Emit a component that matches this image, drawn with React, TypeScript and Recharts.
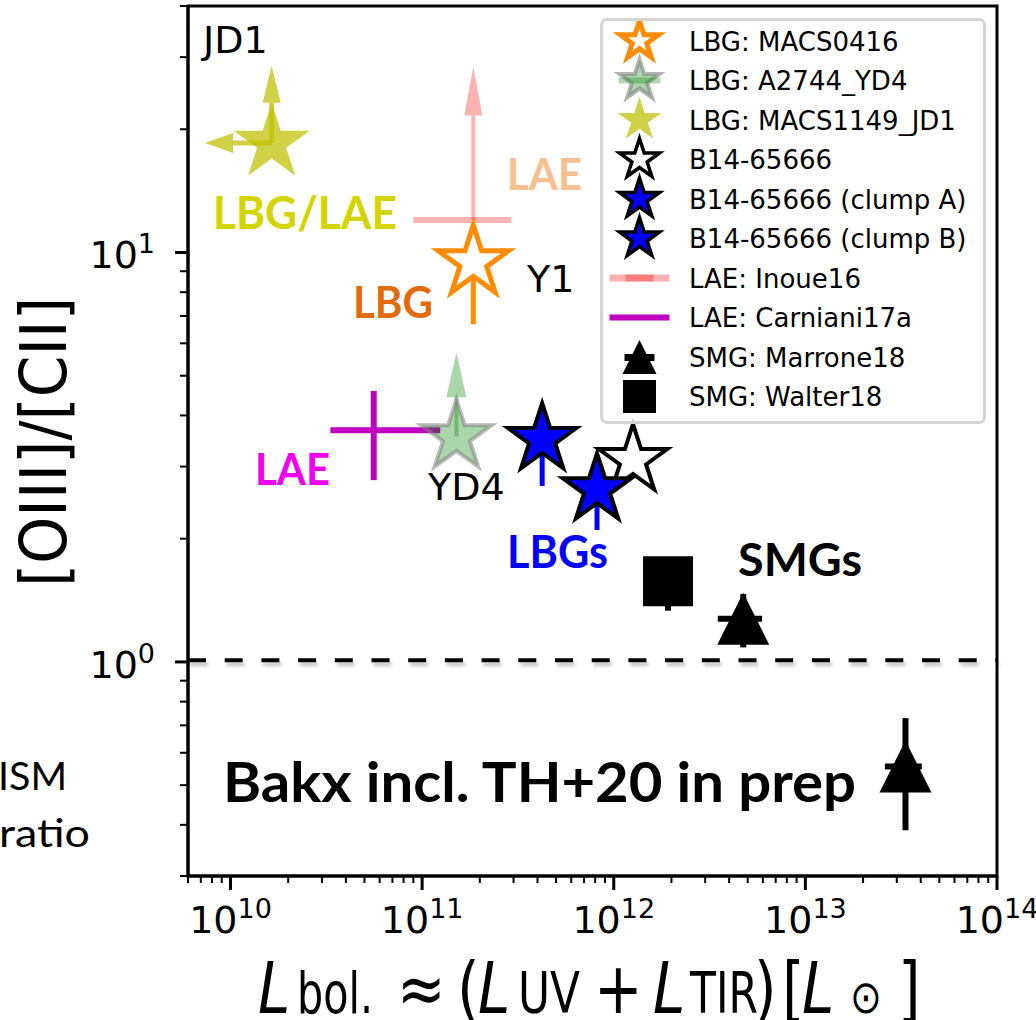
import React from 'react'
import {
  ScatterChart,
  Scatter,
  XAxis,
  YAxis,
  ErrorBar,
  ReferenceLine,
  ReferenceArea,
  Legend,
} from 'recharts'

const FONT = '"DejaVu Sans", sans-serif'
const SLIDE_FONT = 'Lato, "Open Sans", sans-serif'

const X_MIN = 6e9
const X_MAX = 1e14
const Y_MIN = 0.3
const Y_MAX = 40

const X_DECADES = [1e9, 1e10, 1e11, 1e12, 1e13, 1e14]
const Y_DECADES = [0.1, 1, 10]
const LOG_STEPS = [1, 2, 3, 4, 5, 6, 7, 8, 9]

const logTicks = (decades: number[], lo: number, hi: number) =>
  decades
    .flatMap((d) => LOG_STEPS.map((m) => m * d))
    .filter((v) => v >= lo * 0.999 && v <= hi * 1.001)

const X_TICKS = logTicks(X_DECADES, X_MIN, X_MAX)
const Y_TICKS = logTicks(Y_DECADES, Y_MIN, Y_MAX)

// x = L_bol [L_sun], y = [OIII]/[CII]; ex / ey hold [minus, plus]
const MACS0416 = [{ x: 1.85e11, y: 9.47, ey: [2.79, 0] }]
const A2744_YD4 = [{ x: 1.51e11, y: 3.55, ey: [0, 0.88] }]
const MACS1149_JD1 = [{ x: 1.64e10, y: 18.5, ex: [0.61e10, 0], ey: [0, 4.7] }]
const B14_65666 = [{ x: 1.26e12, y: 3.11 }]
const B14_CLUMP_A = [{ x: 4.23e11, y: 3.5, ey: [0.81, 0] }]
const B14_CLUMP_B = [{ x: 8.18e11, y: 2.64, ey: [0.54, 0] }]
const INOUE16 = [{ x: 1.85e11, y: 12.0, ex: [0.95e11, 1.07e11], ey: [0, 9.6] }]
const CARNIANI17A = [{ x: 5.59e10, y: 3.68, ex: [2.27e10, 6.84e10], ey: [0.9, 0.91] }]
const MARRONE18 = [{ x: 4.74e12, y: 1.275, ex: [1.25e12, 1.2e12], ey: [0.19, 0.19] }]
const WALTER18 = [{ x: 1.92e12, y: 1.574, ey: [0.24, 0.2] }]
const BAKX_TH20 = [{ x: 3.33e13, y: 0.555, ex: [0.73e13, 0.72e13], ey: [0.167, 0.174] }]

const SMG_LINE = 1.01

// limit arrows sit at the end of the one-sided error bars
const upEnd = (d: any) => ({ x: d.x, y: d.y + d.ey[1] })
const leftEnd = (d: any) => ({ x: d.x - d.ex[0], y: d.y })

const JD1_UP = MACS1149_JD1.map(upEnd)
const JD1_LEFT = MACS1149_JD1.map(leftEnd)
const YD4_UP = A2744_YD4.map(upEnd)
const INOUE_UP = INOUE16.map(upEnd)

const JD1_COLOR = '#bfbf00'
const JD1_ALPHA = 0.72

const starPoints = (cx: number, cy: number, r: number) =>
  Array.from({ length: 10 }, (_, i) => {
    const rr = i % 2 ? r * 0.381966 : r
    const a = -Math.PI / 2 + (i * Math.PI) / 5
    return `${(cx + rr * Math.cos(a)).toFixed(2)},${(cy + rr * Math.sin(a)).toFixed(2)}`
  }).join(' ')

const Star = ({ cx, cy, r, ...rest }: any) => (
  <polygon points={starPoints(cx, cy, r)} strokeLinejoin="miter" {...rest} />
)

const Triangle = ({ cx, cy, h, ...rest }: any) => (
  <polygon points={`${cx},${cy - h} ${cx - h},${cy + h} ${cx + h},${cy + h}`} {...rest} />
)

const Arrow = ({ cx, cy, dir, len, half, color, opacity }: any) => {
  const pts =
    dir === 'up'
      ? [[cx, cy - len], [cx - half, cy], [cx + half, cy]]
      : [[cx - len, cy], [cx, cy - half], [cx, cy + half]]
  return <polygon points={pts.map((p) => p.join(',')).join(' ')} fill={color} fillOpacity={opacity} />
}

const isDecade = (v: number) => Math.abs(Math.log10(v) - Math.round(Math.log10(v))) < 1e-6

const XTick = ({ x, y, payload }: any) => {
  const v = payload.value
  const major = isDecade(v)
  return (
    <g>
      <line x1={x} x2={x} y1={y} y2={y + (major ? 14 : 7)} stroke="#000" strokeWidth={major ? 3 : 2} />
      {major && (
        <text x={x} y={y + 57} textAnchor="middle" fontFamily={FONT} fontSize={38} fill="#000">
          10
          <tspan fontSize={27} dy={-15}>
            {Math.round(Math.log10(v))}
          </tspan>
        </text>
      )}
    </g>
  )
}

const YTick = ({ x, y, payload }: any) => {
  const v = payload.value
  const major = isDecade(v)
  return (
    <g>
      <line x1={x} x2={x - (major ? 13 : 8)} y1={y} y2={y} stroke="#000" strokeWidth={major ? 3 : 2} />
      {major && (
        <text x={155} y={y + 16} textAnchor="end" fontFamily={FONT} fontSize={38} fill="#000">
          10
          <tspan fontSize={27} dy={-15}>
            {Math.round(Math.log10(v))}
          </tspan>
        </text>
      )}
    </g>
  )
}

const DashedShadowLine = (p: any) => (
  <g>
    <line
      x1={p.x1 + 2}
      y1={p.y1 + 4}
      x2={p.x2 + 2}
      y2={p.y2 + 4}
      stroke="#000"
      strokeOpacity={0.22}
      strokeWidth={4}
      strokeDasharray="18 18.7"
      style={{ filter: 'blur(1.5px)' }}
    />
    <line x1={p.x1} y1={p.y1} x2={p.x2} y2={p.y2} stroke="#000" strokeWidth={4} strokeDasharray="18 18.7" />
  </g>
)

// legend rows, in plotting order
const LEGEND_ICONS: Record<string, (cx: number, cy: number) => React.ReactNode> = {
  'LBG: MACS0416': (cx, cy) => <Star cx={cx} cy={cy} r={20} fill="#fff" stroke="#ff8c00" strokeWidth={5} />,
  'LBG: A2744_YD4': (cx, cy) => (
    <g>
      <Star cx={cx} cy={cy} r={21} fill="#008000" fillOpacity={0.33} stroke="#808080" strokeOpacity={0.6} strokeWidth={4} />
      <line x1={cx - 21} x2={cx + 21} y1={cy} y2={cy} stroke="#008000" strokeOpacity={0.3} strokeWidth={6} />
    </g>
  ),
  'LBG: MACS1149_JD1': (cx, cy) => <Star cx={cx} cy={cy} r={23} fill={JD1_COLOR} fillOpacity={JD1_ALPHA} />,
  'B14-65666': (cx, cy) => <Star cx={cx} cy={cy} r={21} fill="#fff" stroke="#000" strokeWidth={3.5} />,
  'B14-65666 (clump A)': (cx, cy) => <Star cx={cx} cy={cy} r={21} fill="#0000ff" stroke="#000" strokeWidth={3.5} />,
  'B14-65666 (clump B)': (cx, cy) => <Star cx={cx} cy={cy} r={21} fill="#0000ff" stroke="#000" strokeWidth={3.5} />,
  'LAE: Inoue16': (cx, cy) => (
    <g>
      <line x1={cx - 30} x2={cx + 30} y1={cy} y2={cy} stroke="#ff0000" strokeOpacity={0.3} strokeWidth={7} />
      <line x1={cx - 14} x2={cx + 14} y1={cy} y2={cy} stroke="#ff0000" strokeOpacity={0.3} strokeWidth={7} />
    </g>
  ),
  'LAE: Carniani17a': (cx, cy) => (
    <line x1={cx - 30} x2={cx + 30} y1={cy} y2={cy} stroke="#bf00bf" strokeWidth={6} />
  ),
  'SMG: Marrone18': (cx, cy) => (
    <g>
      <Triangle cx={cx} cy={cy} h={17} fill="#000" />
      <rect x={cx - 15} y={cy - 3} width={30} height={7} fill="#000" />
    </g>
  ),
  'SMG: Walter18': (cx, cy) => <rect x={cx - 16.5} y={cy - 16.5} width={33} height={33} fill="#000" />,
}
const LEGEND_ORDER = Object.keys(LEGEND_ICONS)

const LegendBox = ({ payload }: any) => {
  const items = (payload ?? [])
    .filter((it: any) => LEGEND_ICONS[it.value])
    .sort((a: any, b: any) => LEGEND_ORDER.indexOf(a.value) - LEGEND_ORDER.indexOf(b.value))
  return (
    <div
      style={{
        width: 386,
        height: 406,
        boxSizing: 'border-box',
        border: '3px solid #d4d4d4',
        borderRadius: 7,
        background: 'rgba(255,255,255,0.8)',
      }}
    >
      <svg width={380} height={400} style={{ display: 'block' }}>
        {items.map((it: any, i: number) => {
          const cy = 20 + i * 39.5
          return (
            <g key={it.value}>
              {LEGEND_ICONS[it.value](36.5, cy)}
              <text x={86} y={cy + 9.5} fontFamily={FONT} fontSize={26} fill="#000">
                {it.value}
              </text>
            </g>
          )
        })}
      </svg>
    </div>
  )
}

const Note = ({ x, y, w, color, size, bold = true, children }: any) => (
  <text
    x={x}
    y={y}
    textLength={w}
    lengthAdjust="spacingAndGlyphs"
    fontFamily={SLIDE_FONT}
    fontWeight={bold ? 700 : 400}
    fontSize={size}
    fill={color}
  >
    {children}
  </text>
)

const Label = ({ x, y, children }: any) => (
  <text x={x} y={y} fontFamily={FONT} fontSize={38} fill="#000">
    {children}
  </text>
)

// one piece of the x-axis title; subscripts get squeezed to their drawn width
const Part = ({ x, w, sub, italic, size, children }: any) => (
  <text
    x={x}
    y={0}
    fontFamily={FONT}
    fontSize={size ?? (sub ? 46 : 58)}
    fontStyle={italic ? 'italic' : 'normal'}
    textLength={w}
    lengthAdjust={w ? 'spacingAndGlyphs' : undefined}
    fill="#000"
  >
    {children}
  </text>
)

export default function App() {
  return (
    <div style={{ position: 'absolute', left: 0, top: 0, width: 1036, height: 1020, background: '#fff' }}>
      <ScatterChart width={1036} height={1020} margin={{ top: 6, right: 39, bottom: 0, left: 0 }}>
        <XAxis
          type="number"
          dataKey="x"
          scale="log"
          domain={[X_MIN, X_MAX]}
          allowDataOverflow
          ticks={X_TICKS}
          interval={0}
          tickSize={0}
          tickMargin={0}
          tickLine={false}
          tick={(p: any) => <XTick {...p} />}
          axisLine={{ stroke: '#000', strokeWidth: 3 }}
          height={144}
        />
        <YAxis
          type="number"
          dataKey="y"
          scale="log"
          domain={[Y_MIN, Y_MAX]}
          allowDataOverflow
          ticks={Y_TICKS}
          interval={0}
          tickSize={0}
          tickMargin={0}
          tickLine={false}
          tick={(p: any) => <YTick {...p} />}
          axisLine={{ stroke: '#000', strokeWidth: 3 }}
          width={188}
        />
        <ReferenceArea x1={X_MIN} x2={X_MAX} y1={Y_MIN} y2={Y_MAX} fill="none" stroke="#000" strokeWidth={3} />
        <ReferenceLine y={SMG_LINE} shape={DashedShadowLine} />

        <Scatter
          name="LBG: MACS0416"
          data={MACS0416}
          isAnimationActive={false}
          shape={(p: any) => <Star cx={p.cx} cy={p.cy} r={37} fill="#fff" stroke="#ff8c00" strokeWidth={5} />}
        >
          <ErrorBar dataKey="ey" direction="y" width={0} stroke="#ff8c00" strokeWidth={5} isAnimationActive={false} />
        </Scatter>

        <Scatter
          name="LBG: A2744_YD4"
          data={A2744_YD4}
          isAnimationActive={false}
          shape={(p: any) => (
            <Star cx={p.cx} cy={p.cy} r={37} fill="#008000" fillOpacity={0.33} stroke="#808080" strokeOpacity={0.55} strokeWidth={4} />
          )}
        >
          <ErrorBar dataKey="ey" direction="y" width={0} stroke="#008000" strokeOpacity={0.33} strokeWidth={4} isAnimationActive={false} />
        </Scatter>
        <Scatter
          data={YD4_UP}
          legendType="none"
          isAnimationActive={false}
          shape={(p: any) => <Arrow cx={p.cx} cy={p.cy} dir="up" len={45} half={10} color="#008000" opacity={0.33} />}
        />

        <Scatter
          name="LBG: MACS1149_JD1"
          data={MACS1149_JD1}
          isAnimationActive={false}
          shape={(p: any) => <Star cx={p.cx} cy={p.cy} r={40} fill={JD1_COLOR} fillOpacity={JD1_ALPHA} />}
        >
          <ErrorBar dataKey="ey" direction="y" width={0} stroke={JD1_COLOR} strokeOpacity={JD1_ALPHA} strokeWidth={5} isAnimationActive={false} />
          <ErrorBar dataKey="ex" direction="x" width={0} stroke={JD1_COLOR} strokeOpacity={JD1_ALPHA} strokeWidth={5} isAnimationActive={false} />
        </Scatter>
        <Scatter
          data={JD1_UP}
          legendType="none"
          isAnimationActive={false}
          shape={(p: any) => <Arrow cx={p.cx} cy={p.cy} dir="up" len={37} half={9} color={JD1_COLOR} opacity={JD1_ALPHA} />}
        />
        <Scatter
          data={JD1_LEFT}
          legendType="none"
          isAnimationActive={false}
          shape={(p: any) => <Arrow cx={p.cx} cy={p.cy} dir="left" len={28} half={10} color={JD1_COLOR} opacity={JD1_ALPHA} />}
        />

        <Scatter
          name="B14-65666"
          data={B14_65666}
          isAnimationActive={false}
          shape={(p: any) => <Star cx={p.cx} cy={p.cy} r={36} fill="#fff" stroke="#000" strokeWidth={4} />}
        />
        <Scatter
          name="B14-65666 (clump A)"
          data={B14_CLUMP_A}
          isAnimationActive={false}
          shape={(p: any) => <Star cx={p.cx} cy={p.cy} r={36} fill="#0000ff" stroke="#000" strokeWidth={4} />}
        >
          <ErrorBar dataKey="ey" direction="y" width={0} stroke="#0000ff" strokeWidth={5} isAnimationActive={false} />
        </Scatter>
        <Scatter
          name="B14-65666 (clump B)"
          data={B14_CLUMP_B}
          isAnimationActive={false}
          shape={(p: any) => <Star cx={p.cx} cy={p.cy} r={36} fill="#0000ff" stroke="#000" strokeWidth={4} />}
        >
          <ErrorBar dataKey="ey" direction="y" width={0} stroke="#0000ff" strokeWidth={5} isAnimationActive={false} />
        </Scatter>

        <Scatter name="LAE: Inoue16" data={INOUE16} isAnimationActive={false} shape={() => <g />}>
          <ErrorBar dataKey="ex" direction="x" width={0} stroke="#ff0000" strokeOpacity={0.3} strokeWidth={6} isAnimationActive={false} />
          <ErrorBar dataKey="ey" direction="y" width={0} stroke="#ff0000" strokeOpacity={0.3} strokeWidth={4} isAnimationActive={false} />
        </Scatter>
        <Scatter
          data={INOUE_UP}
          legendType="none"
          isAnimationActive={false}
          shape={(p: any) => <Arrow cx={p.cx} cy={p.cy} dir="up" len={49} half={9} color="#ff0000" opacity={0.3} />}
        />

        <Scatter name="LAE: Carniani17a" data={CARNIANI17A} isAnimationActive={false} shape={() => <g />}>
          <ErrorBar dataKey="ex" direction="x" width={0} stroke="#bf00bf" strokeWidth={6} isAnimationActive={false} />
          <ErrorBar dataKey="ey" direction="y" width={0} stroke="#bf00bf" strokeWidth={6} isAnimationActive={false} />
        </Scatter>

        <Scatter
          name="SMG: Marrone18"
          data={MARRONE18}
          isAnimationActive={false}
          shape={(p: any) => <Triangle cx={p.cx} cy={p.cy} h={26} fill="#000" />}
        >
          <ErrorBar dataKey="ex" direction="x" width={0} stroke="#000" strokeWidth={6} isAnimationActive={false} />
          <ErrorBar dataKey="ey" direction="y" width={0} stroke="#000" strokeWidth={6} isAnimationActive={false} />
        </Scatter>
        <Scatter
          name="SMG: Walter18"
          data={WALTER18}
          isAnimationActive={false}
          shape={(p: any) => <rect x={p.cx - 25} y={p.cy - 25} width={50} height={50} fill="#000" />}
        >
          <ErrorBar dataKey="ey" direction="y" width={0} stroke="#000" strokeWidth={6} isAnimationActive={false} />
        </Scatter>
        <Scatter
          data={BAKX_TH20}
          legendType="none"
          isAnimationActive={false}
          shape={(p: any) => <Triangle cx={p.cx} cy={p.cy} h={26} fill="#000" />}
        >
          <ErrorBar dataKey="ex" direction="x" width={0} stroke="#000" strokeWidth={6} isAnimationActive={false} />
          <ErrorBar dataKey="ey" direction="y" width={0} stroke="#000" strokeWidth={6} isAnimationActive={false} />
        </Scatter>

        <Legend
          layout="vertical"
          align="center"
          verticalAlign="middle"
          wrapperStyle={{ left: 600, top: 18, width: 386, height: 406 }}
          content={(p: any) => <LegendBox payload={p.payload} />}
        />
      </ScatterChart>

      <svg
        width={1036}
        height={1020}
        style={{ position: 'absolute', left: 0, top: 0, pointerEvents: 'none', overflow: 'visible' }}
      >
        {/* axis titles */}
        <text
          transform="translate(66 442) rotate(-90)"
          textAnchor="middle"
          textLength={290}
          lengthAdjust="spacingAndGlyphs"
          fontFamily={FONT}
          fontSize={64}
          fill="#000"
        >
          [OIII]/[CII]
        </text>
        <g transform="translate(0 1013) scale(1 1.22)">
          <Part x={258} italic>L</Part>
          <Part x={297} w={76} sub>bol.</Part>
          <Part x={397}>≈</Part>
          <Part x={457}>(</Part>
          <Part x={478} italic>L</Part>
          <Part x={518} w={62} sub>UV</Part>
          <Part x={594}>+</Part>
          <Part x={653} italic>L</Part>
          <Part x={690} w={68} sub>TIR</Part>
          <Part x={754}>)</Part>
          <Part x={782}>[</Part>
          <Part x={802} italic>L</Part>
          <Part x={850} size={38}>⊙</Part>
          <Part x={898}>]</Part>
        </g>

        {/* source names */}
        <Label x={203} y={53}>JD1</Label>
        <Label x={527} y={292}>Y1</Label>
        <Label x={428} y={500}>YD4</Label>

        {/* population tags */}
        <Note x={213} y={229} w={184} size={46} color="#d4d400">LBG/LAE</Note>
        <Note x={507} y={190} w={75} size={44} color="#f8c091">LAE</Note>
        <Note x={353} y={318} w={80} size={44} color="#e36c0a">LBG</Note>
        <Note x={255} y={485} w={75} size={44} color="#f000f0">LAE</Note>
        <Note x={507} y={568} w={101} size={46} color="#0000ff">LBGs</Note>
        <Note x={738} y={576} w={124} size={46} color="#000">SMGs</Note>
        <Note x={223} y={802} w={633} size={56} color="#000">Bakx incl. TH+20 in prep</Note>
        <Note x={-2} y={790} w={69} size={38} color="#000" bold={false}>ISM</Note>
        <Note x={-1} y={847} w={91} size={38} color="#000" bold={false}>ratio</Note>
      </svg>
    </div>
  )
}
